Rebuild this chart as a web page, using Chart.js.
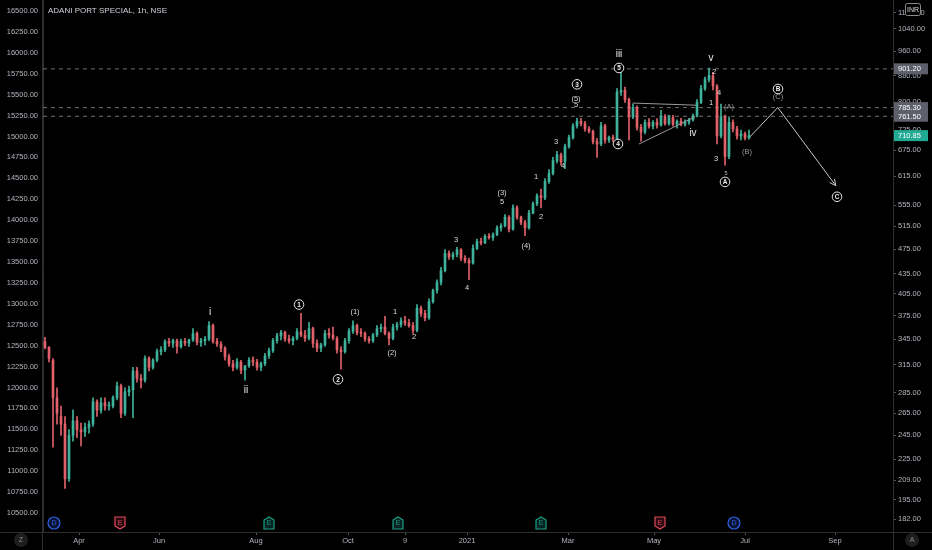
<!DOCTYPE html>
<html><head><meta charset="utf-8">
<script src="https://cdn.jsdelivr.net/npm/chart.js@4/dist/chart.umd.min.js"></script>
<style>html,body{margin:0;padding:0;background:#000;overflow:hidden}</style>
</head><body>
<canvas id="c" width="932" height="550"></canvas>
<script>
// ---- data (hourly candles, sampled) ----
const opens=[342,335,320,280,262,255,210,245,258,250,248,252,255,276,268,275,272,272,280,292,265,286,288,308,300,298,322,312,320,330,332,342,340,343,336,342,340,344,352,341,343,345,362,342,339,334,324,316,312,318,309,314,320,318,312,316,325,331,343,349,353,345,343,346,354,350,346,358,340,334,338,352,350,346,332,330,343,355,362,353,352,345,343,350,358,360,352,346,360,363,368,365,362,356,385,378,372,394,410,422,440,468,462,466,474,460,456,452,476,488,486,497,495,500,512,516,532,510,550,532,522,512,540,558,574,570,604,622,650,664,648,684,706,736,748,742,728,722,696,690,736,700,706,702,830,835,808,760,785,732,720,745,735,745,738,760,742,758,740,748,740,746,752,762,800,840,868,880,848,710,760,660,745,728,710,715,705];
const highs=[347,336,322,290,272,262,250,268,262,256,256,258,280,278,280,280,276,282,296,294,290,292,312,312,304,325,324,322,333,336,344,346,345,345,345,346,345,358,354,346,348,367,364,346,342,336,327,320,322,320,312,323,324,321,318,328,334,346,352,356,355,350,348,358,378,356,366,360,344,340,356,358,360,348,336,346,358,368,364,358,354,348,352,362,364,374,354,364,366,372,374,370,366,390,388,382,398,412,426,445,474,472,470,478,476,464,460,482,492,494,500,502,503,516,520,537,535,556,554,534,526,545,562,578,588,610,630,658,672,668,690,712,742,756,756,748,734,725,704,745,740,710,712,840,890,845,812,795,790,740,752,755,750,755,778,766,765,764,752,756,752,756,768,808,850,875,904,890,852,795,765,760,752,735,725,720,725];
const lows=[333,318,235,255,245,203,208,240,243,236,244,247,253,262,265,268,268,270,278,261,263,282,261,296,290,296,308,310,318,326,330,336,335,328,334,337,336,342,338,336,338,343,340,336,330,320,313,308,310,305,298,312,314,309,308,314,322,329,340,344,342,340,338,344,348,342,344,335,330,330,336,346,344,328,310,328,340,352,350,348,342,340,341,348,354,350,338,344,356,360,362,360,352,354,374,368,370,392,406,418,438,458,458,462,456,452,426,450,474,482,484,492,490,498,506,514,505,508,528,518,498,510,538,554,550,566,600,618,645,640,632,680,702,730,736,722,718,690,658,686,692,694,696,698,820,800,700,755,725,697,715,730,728,730,735,738,738,735,730,736,735,740,748,760,796,835,860,836,690,705,640,655,720,702,700,700,702];
const closes=[335,322,280,265,255,210,245,258,250,248,252,255,276,268,275,272,272,280,292,265,286,288,308,300,298,322,312,320,330,332,342,340,343,336,342,340,344,352,341,343,345,362,342,339,334,324,316,312,318,309,314,320,318,312,316,325,331,343,349,353,345,343,346,354,350,346,358,340,334,338,352,350,346,332,330,343,355,362,353,352,345,343,350,358,360,352,346,360,363,368,365,362,356,385,378,372,394,410,422,440,468,462,466,474,460,456,452,476,488,486,497,495,500,512,516,532,510,550,532,522,512,540,558,574,570,604,622,650,664,648,684,706,736,748,742,728,722,696,690,736,700,706,702,830,835,808,760,785,732,720,745,735,745,738,760,742,758,740,748,740,746,752,762,800,840,868,880,848,710,760,660,745,728,710,715,705,710.85];

// time axis (bar index positions) and labels
const timePos=[8.5,28.5,52.75,75.75,90,105.5,130.75,152.25,175,197.5];
const timeLabels=['Apr','Jun','Aug','Oct','9','2021','Mar','May','Jul','Sep'];
// right (price, log) axis ticks
const rightTicks=[182,195,209,225,245,265,285,315,345,375,405,435,475,515,555,615,675,725,800,880,960,1040,1100];
// left axis ticks
const leftTicks=[10500,10750,11000,11250,11500,11750,12000,12250,12500,12750,13000,13250,13500,13750,14000,14250,14500,14750,15000,15250,15500,15750,16000,16250,16500];
// horizontal price lines
const priceLines=[901.2,785.3,761.5];
const priceBoxes=[901.2,785.3,761.5,710.85];
// projection path (bar index, price)
const projX=[176.25,183.2,197.7];
const projY=[708,785.5,595];
// triangle lines
const triUpX=[146.9,162.9], triUpY=[798,792];
const triLoX=[148.5,162.5], triLoY=[690,760];
// wave labels
const waveText=['i','ii','1','2','(1)','(2)','1','2','3','4','(3)','5','(4)','1','2','3','4','3','(5)','5','iii','5','4','iv','v','2','4','1','(A)','3','5','A','(B)','B','(C)','C'];
const waveX=[41.25,50.25,63.5,73.25,77.5,86.75,87.5,92.25,102.75,105.5,114.25,114.25,120.25,122.75,124,127.75,129.5,133,132.75,132.75,143.5,143.5,143.25,162,166.5,167.25,168.5,166.5,171,167.75,170.25,170,175.5,183.25,183.25,198];
const waveY=[380,288,390,299,380,328,380,348,491,413,580,561,480,613,533,695,638,853,810,792,948,904,690,717,936,890,828,798,786,654,622,603,670,839,815,572];
const waveKind=['roman','roman','circle','circle','small','small','small','small','small','small','small','small','small','small','small','small','small','circle','small','small','roman','circle','circle','roman','roman','small','small','small','gray','small','tiny','circle','gray','circle','gray','circle'];
// event markers
const evX=[2.25,18.75,56,88.25,124,153.75,172.25];
const evType=['D','E','E','E','E','E','D'];
const evTone=['div','bad','good','good','good','bad','div'];

const X_MIN=-0.5, X_MAX=212;
const UP='#3fb29b', DN='#e0616a';
const FONT='"Liberation Sans", Arial, sans-serif';
const idx=opens.map((_,i)=>i);
const cols=idx.map(i=>closes[i]>=opens[i]?UP:DN);

const bgPlugin={id:'bg',beforeDraw(c){const x=c.ctx;x.save();x.fillStyle='#000';x.fillRect(0,0,c.width,c.height);x.restore();}};

const overlay={id:'overlay',
afterDatasetsDraw(c){
  const ctx=c.ctx, xs=c.scales.x, ys=c.scales.y, a=c.chartArea;
  ctx.save();
  // arrow head at end of projection
  const n=projX.length;
  const x1=xs.getPixelForValue(projX[n-2]), y1=ys.getPixelForValue(projY[n-2]);
  const x2=xs.getPixelForValue(projX[n-1]), y2=ys.getPixelForValue(projY[n-1]);
  const ang=Math.atan2(y2-y1,x2-x1);
  ctx.strokeStyle='#c8c8c8';ctx.lineWidth=1;ctx.beginPath();
  ctx.moveTo(x2-7*Math.cos(ang-0.45),y2-7*Math.sin(ang-0.45));ctx.lineTo(x2,y2);
  ctx.lineTo(x2-7*Math.cos(ang+0.45),y2-7*Math.sin(ang+0.45));ctx.stroke();
  // wave labels
  ctx.textAlign='center';ctx.textBaseline='middle';
  for(let i=0;i<waveText.length;i++){
    const px=xs.getPixelForValue(waveX[i]), py=ys.getPixelForValue(waveY[i]);
    const k=waveKind[i];
    if(k==='circle'){
      ctx.beginPath();ctx.arc(px,py,4.8,0,Math.PI*2);ctx.fillStyle='#000';ctx.fill();
      ctx.strokeStyle='#e6e6e6';ctx.lineWidth=1;ctx.stroke();
      ctx.fillStyle='#f0f0f0';ctx.font='bold 6.5px '+FONT;ctx.fillText(waveText[i],px,py+0.5);
    } else if(k==='roman'){
      ctx.fillStyle='#e8e8e8';ctx.font='10px '+FONT;ctx.fillText(waveText[i],px,py);
    } else if(k==='gray'){
      ctx.fillStyle='#9a9a9a';ctx.font='7.5px '+FONT;ctx.fillText(waveText[i],px,py);
    } else if(k==='tiny'){
      ctx.fillStyle='#bbbbbb';ctx.font='5.5px '+FONT;ctx.fillText(waveText[i],px,py);
    } else {
      ctx.fillStyle='#dedede';ctx.font='7.5px '+FONT;ctx.fillText(waveText[i],px,py);
    }
  }
  // event markers
  const ey=a.bottom-9;
  for(let i=0;i<evX.length;i++){
    const px=xs.getPixelForValue(evX[i]);
    const col=evTone[i]==='div'?'#2f5fe8':(evTone[i]==='bad'?'#e0485a':'#1e9e88');
    const fill=evTone[i]==='div'?'#0b1433':(evTone[i]==='bad'?'#2a0a10':'#06231f');
    ctx.beginPath();
    if(evType[i]==='D'){ctx.arc(px,ey,6,0,Math.PI*2);}
    else if(evTone[i]==='bad'){ctx.moveTo(px-5,ey-6);ctx.lineTo(px+5,ey-6);ctx.lineTo(px+5,ey+3);ctx.lineTo(px,ey+6);ctx.lineTo(px-5,ey+3);ctx.closePath();}
    else {ctx.moveTo(px-5,ey+6);ctx.lineTo(px+5,ey+6);ctx.lineTo(px+5,ey-3);ctx.lineTo(px,ey-6);ctx.lineTo(px-5,ey-3);ctx.closePath();}
    ctx.fillStyle=fill;ctx.fill();ctx.strokeStyle=col;ctx.lineWidth=1.2;ctx.stroke();
    ctx.fillStyle=col;ctx.font='7px '+FONT;ctx.fillText(evType[i],px,ey+0.5);
  }
  // title
  ctx.textAlign='left';ctx.fillStyle='#d1d4dc';ctx.font='8px '+FONT;
  ctx.fillText('ADANI PORT SPECIAL, 1h, NSE',a.left+5,11);
  ctx.restore();
},
afterDraw(c){
  const ctx=c.ctx, ys=c.scales.y, a=c.chartArea;
  ctx.save();
  // frame lines
  ctx.strokeStyle='#2e2e2e';ctx.lineWidth=1;ctx.beginPath();
  ctx.moveTo(0,a.bottom+0.5);ctx.lineTo(c.width,a.bottom+0.5);
  ctx.moveTo(a.left-0.5,0);ctx.lineTo(a.left-0.5,c.height);
  ctx.moveTo(a.right+0.5,0);ctx.lineTo(a.right+0.5,c.height);
  ctx.stroke();
  // price boxes on right axis
  ctx.textAlign='left';ctx.textBaseline='middle';ctx.font='7.5px '+FONT;
  for(let i=0;i<priceBoxes.length;i++){
    const py=ys.getPixelForValue(priceBoxes[i]);
    const last=i===priceBoxes.length-1;
    ctx.fillStyle=last?'#22ab94':'#5d606b';
    ctx.fillRect(a.right+1,py-5.5,34,11);
    ctx.fillStyle='#ffffff';ctx.fillText(priceBoxes[i].toFixed(2),a.right+5,py+0.5);
  }
  // currency badge
  ctx.fillStyle='#000';ctx.fillRect(a.right+12,3,16,13);
  ctx.strokeStyle='#8a8a8a';ctx.lineWidth=1;
  ctx.beginPath();ctx.roundRect?ctx.roundRect(a.right+12.5,3.5,15,12,2):ctx.rect(a.right+12.5,3.5,15,12);ctx.stroke();
  ctx.fillStyle='#d1d4dc';ctx.textAlign='center';ctx.font='7px '+FONT;ctx.fillText('INR',a.right+20,10);
  // bottom corner buttons
  const btn=(x,t)=>{ctx.beginPath();ctx.arc(x,540,7,0,Math.PI*2);ctx.fillStyle='#1e1e1e';ctx.fill();ctx.fillStyle='#8a8a8a';ctx.font='7px '+FONT;ctx.fillText(t,x,540.5);};
  btn(21,'Z');btn(912,'A');
  ctx.restore();
}};

const lineDs=(xs,ys,extra)=>Object.assign({type:'line',data:xs.map((v,i)=>({x:v,y:ys[i]})),borderColor:'#c8c8c8',borderWidth:1,pointRadius:0,fill:false,tension:0,yAxisID:'y',xAxisID:'x'},extra||{});

const datasets=[
  {label:'wick',data:idx.map(i=>({x:i,y:[lows[i],highs[i]]})),backgroundColor:cols,barThickness:1,grouped:false,order:3,yAxisID:'y',xAxisID:'x'},
  {label:'body',data:idx.map(i=>({x:i,y:[Math.min(opens[i],closes[i]),Math.max(opens[i],closes[i])]})),backgroundColor:cols,barThickness:2,minBarLength:1,grouped:false,order:2,yAxisID:'y',xAxisID:'x'},
  lineDs(projX,projY,{order:1}),
  lineDs(triUpX,triUpY,{borderColor:'#9a9a9a',order:1}),
  lineDs(triLoX,triLoY,{borderColor:'#9a9a9a',order:1})
];
priceLines.forEach(p=>datasets.push(lineDs([X_MIN,X_MAX],[p,p],{borderColor:'#6f6f6f',borderDash:[4,4],order:4})));

new Chart(document.getElementById('c'),{
  type:'bar',
  data:{datasets},
  options:{
    responsive:false,animation:false,devicePixelRatio:1,
    layout:{padding:0},
    plugins:{legend:{display:false},tooltip:{enabled:false},title:{display:false}},
    scales:{
      x:{type:'linear',min:X_MIN,max:X_MAX,offset:false,position:'bottom',
        afterBuildTicks:s=>{s.ticks=timePos.map(v=>({value:v}));},
        ticks:{callback:(v,i)=>timeLabels[i],color:'#b2b5be',font:{size:7.5,family:FONT},maxRotation:0,autoSkip:false,padding:1},
        grid:{display:true,offset:false,drawOnChartArea:false,drawTicks:true,tickLength:3,color:'#555'},
        border:{display:true,color:'#2e2e2e'},
        afterFit:s=>{s.height=18;s.paddingLeft=0;s.paddingRight=0;}},
      y:{type:'logarithmic',position:'right',min:173.8,max:1151,
        afterBuildTicks:s=>{s.ticks=rightTicks.map(v=>({value:v}));},
        ticks:{callback:v=>Number(v).toFixed(2),color:'#b2b5be',font:{size:7.5,family:FONT},autoSkip:false,padding:2},
        grid:{display:true,drawOnChartArea:false,drawTicks:true,tickLength:3,color:'#555'},
        border:{display:true,color:'#2e2e2e'},
        afterFit:s=>{s.width=39;s.paddingTop=0;s.paddingBottom=0;}},
      yl:{type:'linear',position:'left',min:10273,max:16631,
        afterBuildTicks:s=>{s.ticks=leftTicks.map(v=>({value:v}));},
        ticks:{callback:v=>Number(v).toFixed(2),color:'#b2b5be',font:{size:7.5,family:FONT},autoSkip:false,padding:5},
        grid:{display:false,drawTicks:false},
        border:{display:true,color:'#2e2e2e'},
        afterFit:s=>{s.width=43;s.paddingTop=0;s.paddingBottom=0;}}
    }
  },
  plugins:[bgPlugin,overlay]
});
</script>
</body></html>
